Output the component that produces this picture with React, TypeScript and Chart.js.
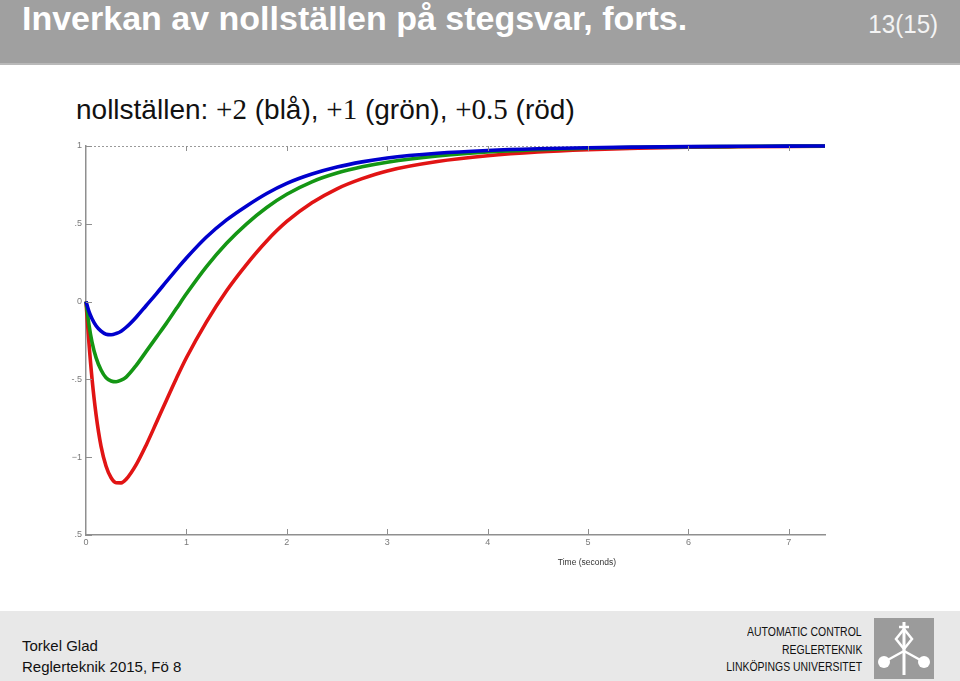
import React, { useEffect, useRef } from "react";
import { Chart, registerables } from "chart.js";

Chart.register(...registerables);

// Time samples (seconds)
const TIME = [0, 0.03, 0.06, 0.1, 0.15, 0.2, 0.25, 0.3, 0.35, 0.4, 0.5, 0.6, 0.7, 0.8, 0.9, 1.0, 1.2, 1.4, 1.6, 1.8, 2.0, 2.25, 2.5, 2.75, 3.0, 3.5, 4.0, 4.5, 5.0, 5.5, 6.0, 6.5, 7.0, 7.36];

// zero at +2 (blue)
const BLUE = [0, -0.065, -0.11, -0.155, -0.19, -0.21, -0.213, -0.205, -0.19, -0.165, -0.1, -0.025, 0.05, 0.128, 0.205, 0.28, 0.415, 0.525, 0.615, 0.695, 0.76, 0.82, 0.865, 0.898, 0.923, 0.953, 0.971, 0.982, 0.989, 0.993, 0.996, 0.998, 0.999, 1.0];
// zero at +1 (green)
const GREEN = [0, -0.15, -0.26, -0.36, -0.44, -0.49, -0.51, -0.515, -0.505, -0.485, -0.41, -0.32, -0.23, -0.14, -0.045, 0.05, 0.225, 0.375, 0.5, 0.605, 0.69, 0.77, 0.826, 0.866, 0.896, 0.936, 0.961, 0.976, 0.986, 0.992, 0.995, 0.997, 0.999, 1.0];
// zero at +0.5 (red)
const RED = [0, -0.27, -0.495, -0.725, -0.93, -1.058, -1.132, -1.164, -1.165, -1.142, -1.048, -0.921, -0.779, -0.635, -0.494, -0.361, -0.13, 0.07, 0.24, 0.39, 0.515, 0.635, 0.725, 0.79, 0.84, 0.9, 0.937, 0.961, 0.976, 0.986, 0.992, 0.995, 0.997, 0.998];

const X_MIN = 0;
const X_MAX = 7.36;
const Y_MIN = -1.5;
const Y_MAX = 1;
const Y_TICK_VALUES = [-1.5, -1, -0.5, 0, 0.5, 1];
const Y_TICK_LABELS = [".5", "\u22121", "-.5", "0", ".5", "1"];

const SERIES_COLORS = ["rgb(0,0,205)", "rgb(20,150,20)", "rgb(225,20,20)"];

const axisDecor = {
  id: "axisDecor",
  beforeDatasetsDraw(chart: any) {
    const { ctx, chartArea } = chart;
    ctx.save();
    ctx.strokeStyle = "#9a9a9a";
    ctx.lineWidth = 1;
    ctx.setLineDash([2, 2]);
    ctx.beginPath();
    ctx.moveTo(chartArea.left, chartArea.top + 0.5);
    ctx.lineTo(chartArea.right, chartArea.top + 0.5);
    ctx.stroke();
    ctx.restore();
  },
  afterDraw(chart: any) {
    const { ctx, chartArea, scales } = chart;
    ctx.save();
    ctx.strokeStyle = "#8f8f8f";
    ctx.lineWidth = 1;
    scales.x.ticks.forEach((t: any) => {
      const px = Math.round(scales.x.getPixelForValue(t.value)) + 0.5;
      if (t.value > 0) {
        ctx.beginPath();
        ctx.moveTo(px, chartArea.bottom);
        ctx.lineTo(px, chartArea.bottom - 6);
        ctx.moveTo(px, chartArea.top);
        ctx.lineTo(px, chartArea.top + 5);
        ctx.stroke();
      }
    });
    scales.y.ticks.forEach((t: any) => {
      const py = Math.round(scales.y.getPixelForValue(t.value)) + 0.5;
      ctx.beginPath();
      ctx.moveTo(chartArea.left, py);
      ctx.lineTo(chartArea.left + 6, py);
      ctx.stroke();
    });
    ctx.restore();
  },
};

function StepChart() {
  const ref = useRef<HTMLCanvasElement | null>(null);
  useEffect(() => {
    if (!ref.current) return;
    const mk = (vals: number[]) => TIME.map((t, i) => ({ x: t, y: vals[i] }));
    const chart = new Chart(ref.current, {
      type: "line",
      data: {
        datasets: [
          { label: "+2", data: mk(BLUE), borderColor: SERIES_COLORS[0] },
          { label: "+1", data: mk(GREEN), borderColor: SERIES_COLORS[1] },
          { label: "+0.5", data: mk(RED), borderColor: SERIES_COLORS[2] },
        ].map((d) => ({
          ...d,
          borderWidth: 3.6,
          pointRadius: 0,
          fill: false,
          cubicInterpolationMode: "monotone" as const,
          clip: 6,
        })),
      },
      options: {
        animation: false,
        responsive: true,
        maintainAspectRatio: false,
        layout: { padding: { left: 0, right: 135, top: 16, bottom: 0 } },
        plugins: { legend: { display: false }, tooltip: { enabled: false } },
        scales: {
          x: {
            type: "linear",
            min: X_MIN,
            max: X_MAX,
            grid: { drawOnChartArea: false, drawTicks: false },
            border: { display: true, color: "#8f8f8f", width: 1.5 },
            ticks: {
              stepSize: 1,
              includeBounds: false,
              color: "#7a7a7a",
              font: { size: 9, family: "'Liberation Sans', Arial, sans-serif" },
              padding: 2,
              maxRotation: 0,
            },
            afterFit(scale: any) {
              scale.height = 55;
            },
          },
          y: {
            type: "linear",
            min: Y_MIN,
            max: Y_MAX,
            grid: { drawOnChartArea: false, drawTicks: false },
            border: { display: true, color: "#8f8f8f", width: 1.5 },
            afterBuildTicks(scale: any) {
              scale.ticks = Y_TICK_VALUES.map((v) => ({ value: v }));
            },
            ticks: {
              color: "#7a7a7a",
              font: { size: 9, family: "'Liberation Sans', Arial, sans-serif" },
              padding: 4,
              callback: (v: any) => {
                const i = Y_TICK_VALUES.indexOf(Number(v));
                return i >= 0 ? Y_TICK_LABELS[i] : "";
              },
            },
            afterFit(scale: any) {
              scale.width = 86;
            },
          },
        },
      },
      plugins: [axisDecor],
    });
    return () => chart.destroy();
  }, []);
  return <canvas ref={ref} />;
}

const SANS = "'Liberation Sans', Arial, Helvetica, sans-serif";
const SERIF = "'Liberation Serif', 'DejaVu Serif', serif";

export default function App() {
  return (
    <div
      style={{
        position: "absolute",
        left: 0,
        top: 0,
        width: 960,
        height: 681,
        overflow: "hidden",
        background: "#ffffff",
        fontFamily: SANS,
      }}
    >
      {/* header */}
      <div style={{ position: "absolute", left: 0, top: 0, width: 960, height: 63, background: "#a0a0a0" }} />
      <div style={{ position: "absolute", left: 0, top: 63, width: 960, height: 2, background: "#b9b9b9" }} />
      <div
        style={{
          position: "absolute",
          left: 22,
          top: 1,
          fontSize: 34,
          lineHeight: "34px",
          fontWeight: "bold",
          color: "#ffffff",
          whiteSpace: "nowrap",
        }}
      >
        Inverkan av nollställen på stegsvar, forts.
      </div>
      <div
        style={{
          position: "absolute",
          right: 22,
          top: 11,
          fontSize: 26,
          lineHeight: "26px",
          color: "#f4f4f4",
          whiteSpace: "nowrap",
          transform: "scaleX(0.93)",
          transformOrigin: "right center",
        }}
      >
        13(15)
      </div>

      {/* subtitle */}
      <div
        style={{
          position: "absolute",
          left: 76,
          top: 95,
          fontSize: 28,
          lineHeight: "28px",
          color: "#111",
          whiteSpace: "nowrap",
        }}
      >
        nollställen: <span style={{ fontFamily: SERIF, fontSize: 29 }}>+2</span> (blå),{" "}
        <span style={{ fontFamily: SERIF, fontSize: 29 }}>+1</span> (grön),{" "}
        <span style={{ fontFamily: SERIF, fontSize: 29 }}>+0.5</span> (röd)
      </div>

      {/* chart */}
      <div style={{ position: "absolute", left: 0, top: 130, width: 960, height: 460 }}>
        <StepChart />
      </div>
      <div
        style={{
          position: "absolute",
          left: 537,
          top: 557,
          width: 100,
          textAlign: "center",
          fontSize: 8.5,
          lineHeight: "10px",
          color: "#333",
        }}
      >
        Time (seconds)
      </div>

      {/* footer */}
      <div style={{ position: "absolute", left: 0, top: 611, width: 960, height: 70, background: "#e8e8e8" }} />
      <div style={{ position: "absolute", left: 22, top: 638, fontSize: 15, lineHeight: "15px", color: "#111", whiteSpace: "nowrap" }}>
        Torkel Glad
      </div>
      <div style={{ position: "absolute", left: 22, top: 659, fontSize: 15, lineHeight: "15px", color: "#111", whiteSpace: "nowrap" }}>
        Reglerteknik 2015, Fö 8
      </div>
      {["AUTOMATIC CONTROL", "REGLERTEKNIK", "LINKÖPINGS UNIVERSITET"].map((s, i) => (
        <div
          key={s}
          style={{
            position: "absolute",
            right: 98,
            top: 626 + i * 17.5,
            fontSize: 12,
            lineHeight: "12px",
            color: "#111",
            whiteSpace: "nowrap",
            transform: "scaleX(0.87)",
            transformOrigin: "right center",
          }}
        >
          {s}
        </div>
      ))}
      <svg
        style={{ position: "absolute", left: 874, top: 618 }}
        width={60}
        height={61}
        viewBox="0 0 60 61"
      >
        <rect x={0} y={0} width={60} height={61} fill="#9b9b9b" />
        <g stroke="#ffffff" fill="none" strokeWidth={2.5}>
          <line x1={30} y1={4} x2={30} y2={57} strokeWidth={3} />
          <line x1={25} y1={9} x2={35} y2={9} />
          <polygon points="30,11 38,21 30,31 22,21" />
          <line x1={30} y1={33} x2={10} y2={44} />
          <line x1={30} y1={33} x2={50} y2={44} />
        </g>
        <circle cx={10} cy={44} r={6} fill="#ffffff" />
        <circle cx={50} cy={44} r={6} fill="#ffffff" />
      </svg>
    </div>
  );
}
